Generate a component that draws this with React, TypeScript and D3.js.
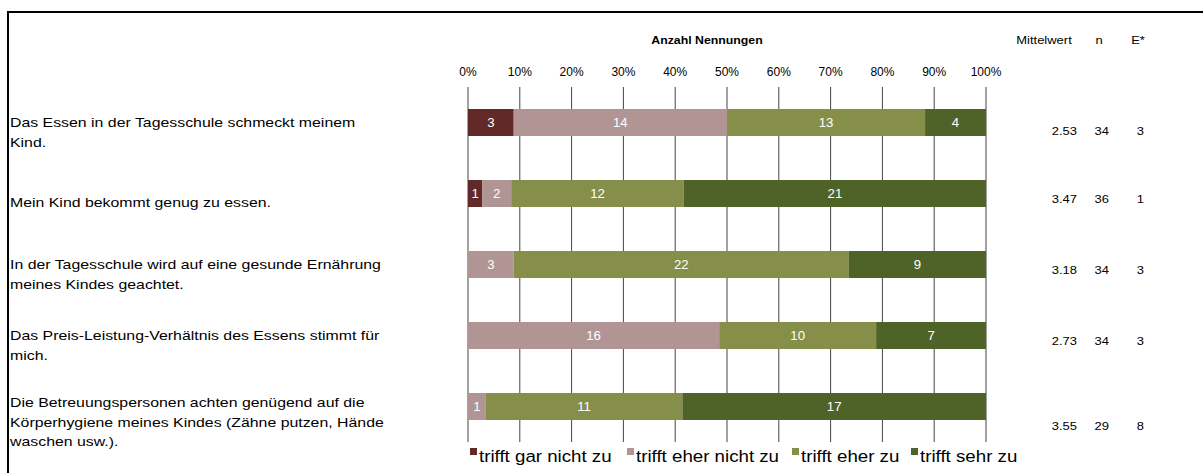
import React from "react";
import { scaleLinear, scaleBand, sum } from "d3";

// answer categories (legend order) and their colours
const categories = ["trifft gar nicht zu", "trifft eher nicht zu", "trifft eher zu", "trifft sehr zu"];
const colors = ["#612a28", "#b09594", "#868f4a", "#4f6228"];

// questions, one array of lines each
const questions = [
  ["Das Essen in der Tagesschule schmeckt meinem", "Kind."],
  ["Mein Kind bekommt genug zu essen."],
  ["In der Tagesschule wird auf eine gesunde Ernährung", "meines Kindes geachtet."],
  ["Das Preis-Leistung-Verhältnis des Essens stimmt für", "mich."],
  ["Die Betreuungspersonen achten genügend auf die", "Körperhygiene meines Kindes (Zähne putzen, Hände", "waschen usw.)."],
];

// counts per category for each question
const garNicht = [3, 1, 0, 0, 0];
const eherNicht = [14, 2, 3, 16, 1];
const eherZu = [13, 12, 22, 10, 11];
const sehrZu = [4, 21, 9, 7, 17];

const mittelwert = ["2.53", "3.47", "3.18", "2.73", "3.55"];
const nValues = ["34", "36", "34", "34", "29"];
const eValues = ["3", "1", "3", "3", "8"];

const ticks = [0, 0.1, 0.2, 0.3, 0.4, 0.5, 0.6, 0.7, 0.8, 0.9, 1];

const W = 1203;
const H = 473;
const FONT = "Liberation Sans, Arial, sans-serif";

// small vertical nudges, the source table does not centre things evenly
const labelShift = [0, 9, 0, 0, -4];
const statShift = [8, 5, 5, 5, 19];

// the source image is stretched sideways for most of the text
const at = (x: number, y: number, sx: number) => `translate(${x},${y}) scale(${sx},1)`;

export default function App() {
  const series = [garNicht, eherNicht, eherZu, sehrZu];
  const rows = questions.map((q, i) => {
    const counts = series.map(s => s[i]);
    const total = sum(counts);
    let acc = 0;
    const segs = counts.map((c, k) => {
      const s = { k, c, x0: acc / total, x1: (acc + c) / total };
      acc += c;
      return s;
    });
    return { i, q, segs };
  });

  const x = scaleLinear().domain([0, 1]).range([468, 986]);
  const y = scaleBand<number>()
    .domain(rows.map(r => r.i))
    .range([87, 442])
    .paddingInner(0.62)
    .paddingOuter(0.31);

  // legend layout
  const legendX = [470, 627, 792, 911];

  return (
    <svg width={W} height={H} style={{ position: "absolute", left: 0, top: 0 }} fontFamily={FONT}>
      <rect width={W} height={H} fill="#fff" />
      {/* frame */}
      <line x1={7} x2={W} y1={12} y2={12} stroke="#000" strokeWidth={2} />
      <line x1={8} x2={8} y1={11} y2={H} stroke="#000" strokeWidth={2} />

      <text transform={at(707, 44, 1.12)} textAnchor="middle" fontSize={11} fontWeight="bold">
        Anzahl Nennungen
      </text>
      <text transform={at(1044, 44, 1.18)} textAnchor="middle" fontSize={11}>Mittelwert</text>
      <text transform={at(1099, 44, 1.18)} textAnchor="middle" fontSize={11}>n</text>
      <text transform={at(1138, 44, 1.18)} textAnchor="middle" fontSize={11}>E*</text>

      {/* axis tick labels */}
      {ticks.map(t => (
        <text key={t} x={x(t)} y={76} textAnchor="middle" fontSize={12}>
          {Math.round(t * 100)}%
        </text>
      ))}

      {/* grid lines */}
      {ticks.map(t => (
        <line key={t} x1={x(t)} x2={x(t)} y1={87} y2={442} stroke="#444" strokeWidth={1} />
      ))}

      {rows.map(r => {
        const by = y(r.i)!;
        const bh = y.bandwidth();
        const cy = by + bh / 2;
        const sy = cy + statShift[r.i] + 4;
        return (
          <g key={r.i}>
            {r.segs.map(s =>
              s.c > 0 ? (
                <g key={s.k}>
                  <rect x={x(s.x0)} y={by} width={x(s.x1) - x(s.x0)} height={bh} fill={colors[s.k]} />
                  <text
                    transform={at((x(s.x0) + x(s.x1)) / 2, cy + 4.5, 1.1)}
                    textAnchor="middle"
                    fontSize={12}
                    fill="#fff"
                  >
                    {s.c}
                  </text>
                </g>
              ) : null
            )}
            {r.q.map((line, li) => (
              <text key={li} transform={at(10, cy + labelShift[r.i] + 4.5 + li * 19.5, 1.22)} fontSize={13}>
                {line}
              </text>
            ))}
            <text transform={at(1077, sy, 1.18)} textAnchor="end" fontSize={11}>
              {mittelwert[r.i]}
            </text>
            <text transform={at(1109, sy, 1.18)} textAnchor="end" fontSize={11}>
              {nValues[r.i]}
            </text>
            <text transform={at(1144, sy, 1.18)} textAnchor="end" fontSize={11}>
              {eValues[r.i]}
            </text>
          </g>
        );
      })}

      {/* legend */}
      {categories.map((c, k) => (
        <g key={c}>
          <rect x={legendX[k]} y={448} width={7} height={7} fill={colors[k]} />
          <text transform={at(legendX[k] + 9, 462, 1.1)} fontSize={17}>
            {c}
          </text>
        </g>
      ))}
    </svg>
  );
}
